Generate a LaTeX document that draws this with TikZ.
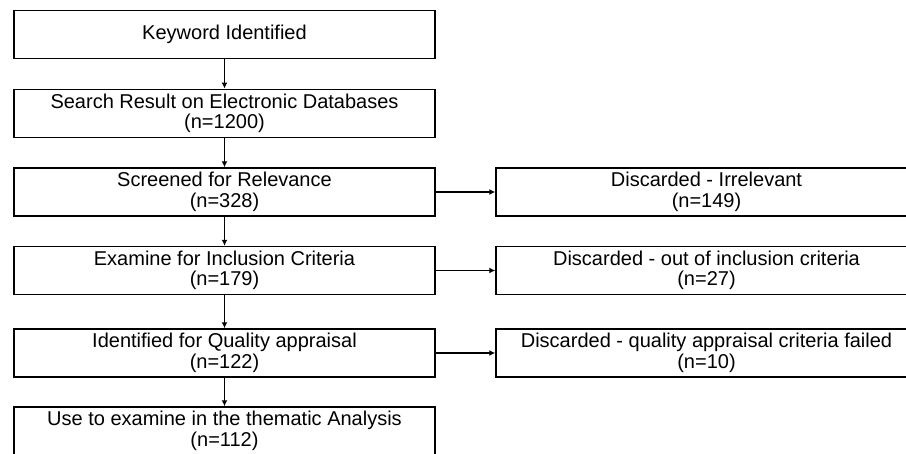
\documentclass[tikz,border=0pt]{standalone}
\usepackage{fontspec}
\setmainfont{Liberation Sans}
\usetikzlibrary{shapes, arrows.meta, positioning}
\tikzstyle{caja} = [draw=black, line width=1.5pt, rectangle, minimum width=421pt, minimum height=48pt, inner sep=0pt, align=center, font=\fontsize{20}{20.5}\selectfont]
\tikzstyle{flecha} = [line width=1.4pt, -{Latex[length=6pt,width=6pt]}]

\begin{document}
\begin{tikzpicture}[x=1pt, y=-1pt]
	\useasboundingbox (0,0) rectangle (906,453);
	\clip (0,0) rectangle (906,453);
	% columna principal
	\node [caja] (keyword) at (224.5,34.5) {Keyword Identified};
	\node [caja] (search) at (224.5,113.3) {Search Result on Electronic Databases\\(n=1200)};
	\node [caja] (screened) at (224.5,192) {Screened for Relevance\\(n=328)};
	\node [caja] (examine) at (224.5,270.5) {Examine for Inclusion Criteria\\(n=179)};
	\node [caja] (quality) at (224.5,353) {Identified for Quality appraisal\\(n=122)};
	\node [caja] (thematic) at (224.5,431) {Use to examine in the thematic Analysis\\(n=112)};
	% descartados
	\node [caja] (irrelevant) at (706.5,192) {Discarded - Irrelevant\\(n=149)};
	\node [caja] (outcrit) at (706.5,270.5) {Discarded - out of inclusion criteria\\(n=27)};
	\node [caja] (failed) at (706.5,353) {Discarded - quality appraisal criteria failed\\(n=10)};
	% flechas
	\draw [flecha] (keyword) -- (search);
	\draw [flecha] (search) -- (screened);
	\draw [flecha] (screened) -- (examine);
	\draw [flecha] (examine) -- (quality);
	\draw [flecha] (quality) -- (thematic);
	\draw [flecha] (screened) -- (irrelevant);
	\draw [flecha] (examine) -- (outcrit);
	\draw [flecha] (quality) -- (failed);
\end{tikzpicture}
\end{document}
